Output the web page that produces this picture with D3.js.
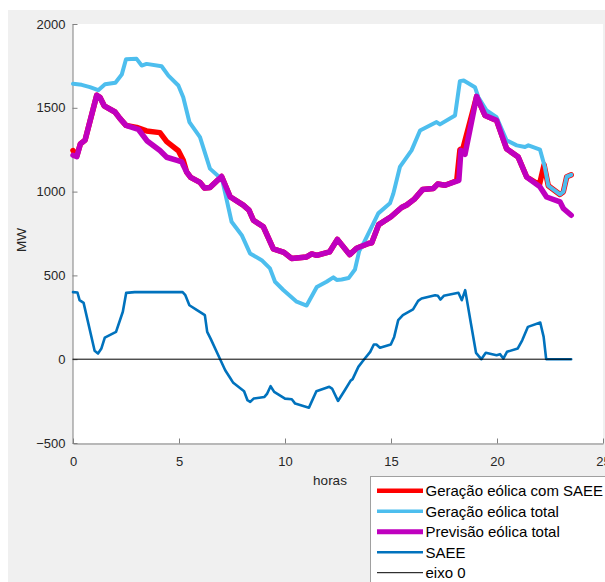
<!DOCTYPE html>
<html>
<head>
<meta charset="utf-8">
<script src="https://cdn.jsdelivr.net/npm/d3@7"></script>
<style>
  html, body { margin: 0; padding: 0; background: #ffffff; }
  svg { display: block; font-family: "Liberation Sans", Arial, Helvetica, sans-serif; }
</style>
</head>
<body>
<svg id="chart" width="605" height="582"></svg>
<script>
// Axis ticks
const tickHours = [0, 5, 10, 15, 20, 25];
const tickMW = [-500, 0, 500, 1000, 1500, 2000];

// Geração eólica com SAEE (MW)
const saeeGenHours = [0, 0.18, 0.35, 0.57, 1.12, 1.27, 1.47, 1.98, 2.22, 2.5, 3.0, 3.47, 4.1, 4.42, 4.97, 5.2, 5.36,
  5.55, 5.99, 6.2, 6.46, 7.01, 7.41, 8.03, 8.3, 8.51, 8.98, 9.45, 9.95, 10.31, 11.02, 11.26, 11.5, 12.1, 12.47,
  13.05, 13.38, 13.93, 14.09, 14.42, 15.0, 15.5, 15.74, 16.1, 16.49, 16.99, 17.2, 17.55, 18.1, 18.25, 18.4,
  19.04, 19.44, 19.98, 20.45, 21.0, 21.4, 22.0, 22.22, 22.42, 22.97, 23.13, 23.29, 23.5];
const saeeGenMW = [1245, 1212, 1285, 1307, 1575, 1563, 1512, 1475, 1435, 1395, 1383, 1362, 1352, 1298, 1244, 1187, 1117,
  1085, 1055, 1022, 1025, 1090, 969, 919, 890, 829, 790, 658, 638, 601, 610, 628, 620, 640, 715,
  624, 662, 690, 694, 803, 850, 905, 920, 955, 1012, 1018, 1045, 1038, 1065, 1250, 1260,
  1568, 1454, 1425, 1256, 1206, 1087, 1040, 1160, 1035, 983, 999, 1089, 1100];

// Geração eólica total (MW)
const totalGenHours = [0, 0.41, 0.8, 1.19, 1.51, 2.0, 2.3, 2.5, 3.0, 3.24, 3.47, 4.18, 4.5, 4.97, 5.2, 5.49, 5.99,
  6.46, 6.86, 7.06, 7.48, 7.96, 8.35, 8.9, 9.29, 9.53, 9.92, 10.55, 11.02, 11.5, 11.96, 12.28, 12.44, 12.67,
  13.0, 13.3, 13.5, 13.7, 14.17, 14.4, 14.95, 15.11, 15.42, 15.97, 16.37, 16.99, 17.15, 17.31, 18.02, 18.25,
  18.43, 18.96, 19.12, 19.51, 19.98, 20.45, 20.93, 21.32, 21.48, 22.03, 22.25, 22.42, 22.97, 23.13, 23.29, 23.5];
const totalGenMW = [1643, 1637, 1623, 1605, 1640, 1650, 1698, 1790, 1792, 1752, 1762, 1748, 1692, 1633, 1563, 1415, 1325,
  1137, 1091, 1058, 820, 740, 631, 591, 542, 462, 413, 343, 320, 431, 462, 488, 473, 476,
  484, 535, 645, 690, 811, 870, 930, 988, 1147, 1246, 1365, 1405, 1415, 1401, 1454, 1659,
  1663, 1623, 1563, 1484, 1444, 1306, 1276, 1266, 1276, 1250, 1150, 1035, 983, 999, 1089, 1100];

// Previsão eólica total (MW)
const forecastHours = [0, 0.18, 0.35, 0.57, 1.12, 1.27, 1.47, 1.98, 2.22, 2.5, 3.08, 3.5, 4.1, 4.42, 4.95, 5.13, 5.36,
  5.55, 5.99, 6.2, 6.46, 7.01, 7.41, 8.03, 8.3, 8.51, 8.98, 9.45, 9.95, 10.31, 11.02, 11.26, 11.5, 12.1, 12.47,
  13.05, 13.38, 13.93, 14.09, 14.42, 15.0, 15.5, 15.74, 16.1, 16.49, 16.99, 17.2, 17.55, 18.2, 18.3, 18.49,
  19.04, 19.44, 19.98, 20.45, 21.0, 21.4, 22.03, 22.34, 22.97, 23.13, 23.5];
const forecastMW = [1217, 1209, 1285, 1307, 1575, 1563, 1512, 1475, 1435, 1395, 1372, 1302, 1245, 1205, 1185, 1177, 1117,
  1085, 1055, 1022, 1025, 1090, 969, 919, 890, 829, 790, 658, 638, 601, 610, 628, 620, 640, 715,
  624, 662, 690, 694, 803, 850, 905, 920, 955, 1012, 1018, 1045, 1038, 1067, 1246, 1222,
  1568, 1454, 1425, 1256, 1206, 1087, 1028, 968, 939, 899, 859];

// SAEE (MW)
const storageHours = [0, 0.21, 0.31, 0.5, 1.02, 1.18, 1.34, 1.5, 2.03, 2.35, 2.51, 2.91, 5.17, 5.3, 5.49, 5.85, 6.22,
  6.33, 6.49, 6.94, 7.18, 7.43, 7.56, 8.07, 8.23, 8.36, 8.52, 9.03, 9.16, 9.32, 9.49, 10.0, 10.32, 10.48,
  11.13, 11.48, 12.09, 12.22, 12.5, 12.82, 13.09, 13.19, 13.46, 13.7, 14.02, 14.19, 14.31, 14.48, 14.99,
  15.15, 15.34, 15.56, 16.04, 16.28, 16.44, 17.08, 17.21, 17.33, 17.49, 18.18, 18.34, 18.5, 18.77, 19.01,
  19.26, 19.47, 19.98, 20.14, 20.3, 20.47, 20.98, 21.19, 21.46, 22.04, 22.2, 22.32, 23.5];
const storageMW = [400, 398, 352, 336, 50, 34, 64, 129, 163, 283, 396, 400, 400, 382, 322, 293, 263,
  163, 123, 0, -66, -115, -141, -191, -245, -255, -235, -225, -205, -161, -195, -235, -239, -265,
  -289, -191, -165, -175, -249, -185, -129, -119, -46, -6, 44, 88, 88, 68, 88,
  133, 233, 263, 297, 348, 362, 382, 378, 356, 378, 396, 352, 412, 213, 38,
  0, 38, 24, 30, 4, 44, 64, 113, 193, 219, 133, 0, 0];

// Eixo 0
const zeroHours = [0, 23.5];
const zeroMW = [0, 0];

const series = [
  { name: "Geração eólica com SAEE", hours: saeeGenHours, mw: saeeGenMW, color: "#ff0000", width: 5.5, legendWidth: 4.5 },
  { name: "Geração eólica total",    hours: totalGenHours, mw: totalGenMW, color: "#4dbeee", width: 4,   legendWidth: 3.4 },
  { name: "Previsão eólica total",   hours: forecastHours, mw: forecastMW, color: "#bf00bf", width: 5.5, legendWidth: 5 },
  { name: "SAEE",                    hours: storageHours, mw: storageMW, color: "#0072bd", width: 2.6, legendWidth: 2.6 },
  { name: "eixo 0",                  hours: zeroHours, mw: zeroMW, color: "#000000", width: 1, legendWidth: 1 }
];

const svg = d3.select("#chart");

// Figure background
svg.append("rect").attr("x", 8).attr("y", 10).attr("width", 597).attr("height", 572).attr("fill", "#f0f0f0");

const x = d3.scaleLinear().domain([0, 25]).range([73, 603]);
const y = d3.scaleLinear().domain([-500, 2000]).range([443, 24]);

// Axes area
svg.append("rect")
  .attr("x", x(0)).attr("y", y(2000))
  .attr("width", x(25) - x(0)).attr("height", y(-500) - y(2000))
  .attr("fill", "#ffffff");

const axisColor = "#808080";
const textColor = "#262626";

const xAxis = svg.append("g")
  .attr("transform", `translate(0,${y(-500) + 0.5})`)
  .call(d3.axisBottom(x).tickValues(tickHours).tickFormat(d3.format("d"))
    .tickSizeInner(-5).tickSizeOuter(0).tickPadding(13));

const yAxis = svg.append("g")
  .attr("transform", `translate(${x(0) - 0.5},0)`)
  .call(d3.axisLeft(y).tickValues(tickMW).tickFormat(d3.format("d"))
    .tickSizeInner(-5).tickSizeOuter(0).tickPadding(7));

[xAxis, yAxis].forEach(g => {
  g.select(".domain").attr("stroke", axisColor);
  g.selectAll(".tick line").attr("stroke", axisColor);
  g.selectAll(".tick text")
    .attr("fill", textColor)
    .style("font-size", "13px")
    .style("font-family", "'Liberation Sans', Arial, sans-serif");
});

// Axis titles
svg.append("text")
  .attr("x", 330).attr("y", 485)
  .attr("text-anchor", "middle")
  .attr("fill", textColor)
  .style("font-size", "13.5px")
  .text("horas");

svg.append("text")
  .attr("transform", "translate(26,240) rotate(-90)")
  .attr("text-anchor", "middle")
  .attr("fill", textColor)
  .style("font-size", "13.5px")
  .text("MW");

// Series lines
const line = d3.line()
  .x(d => x(d[0]))
  .y(d => y(d[1]));

series.forEach(s => {
  const pts = s.hours.map((h, i) => [h, s.mw[i]]);
  svg.append("path")
    .datum(pts)
    .attr("d", line)
    .attr("fill", "none")
    .attr("stroke", s.color)
    .attr("stroke-width", s.width)
    .attr("stroke-linejoin", "round")
    .attr("stroke-linecap", "round");
});

// Legend
const legend = svg.append("g");
legend.append("rect")
  .attr("x", 370.5).attr("y", 476.5)
  .attr("width", 240).attr("height", 130)
  .attr("fill", "#ffffff")
  .attr("stroke", "#a0a0a0");

series.forEach((s, i) => {
  const ry = 490.7 + i * 20.5;
  legend.append("line")
    .attr("x1", 377).attr("x2", 423)
    .attr("y1", ry).attr("y2", ry)
    .attr("stroke", s.color)
    .attr("stroke-width", s.legendWidth);
  legend.append("text")
    .attr("x", 425.5).attr("y", ry)
    .attr("dy", "0.36em")
    .attr("fill", "#000000")
    .style("font-size", "15px")
    .text(s.name);
});
</script>
</body>
</html>
